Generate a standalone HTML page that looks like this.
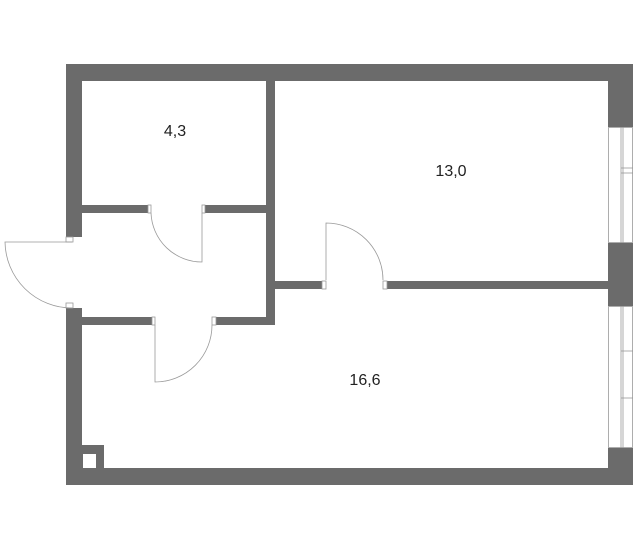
<!DOCTYPE html>
<html><head><style>body{margin:0;background:#fff}svg{display:block}</style></head><body>
<svg width="638" height="550" xmlns="http://www.w3.org/2000/svg">
<g fill="#6b6b6b">
<rect x="66" y="64" width="567" height="17"/>
<rect x="66" y="468" width="567" height="17"/>
<rect x="66" y="64" width="16" height="173"/>
<rect x="66" y="308" width="16" height="177"/>
<rect x="608" y="64" width="25" height="63"/>
<rect x="608" y="243" width="25" height="63"/>
<rect x="608" y="448" width="25" height="37"/>
<rect x="266" y="81" width="9" height="244"/>
<rect x="275" y="281" width="47" height="8"/>
<rect x="387" y="281" width="221" height="8"/>
<rect x="82" y="205" width="66" height="8"/>
<rect x="205" y="205" width="61" height="8"/>
<rect x="82" y="317" width="70" height="8"/>
<rect x="216" y="317" width="50" height="8"/>
<rect x="82" y="445" width="22" height="24"/>
</g>
<rect x="83" y="454" width="13" height="14" fill="#fff"/>
<g fill="none" stroke="#999" stroke-width="0.8">
<rect x="608.5" y="127.5" width="24" height="115"/>
<line x1="621" y1="127" x2="621" y2="243"/><line x1="623" y1="127" x2="623" y2="243"/>
<line x1="621" y1="168" x2="633" y2="168"/><line x1="621" y1="173" x2="633" y2="173"/>
<rect x="608.5" y="306.5" width="24" height="141"/>
<line x1="621" y1="306" x2="621" y2="448"/><line x1="623" y1="306" x2="623" y2="448"/>
<line x1="621" y1="351" x2="633" y2="351"/><line x1="621" y1="398" x2="633" y2="398"/>
<path d="M326 280 V223 A57 57 0 0 1 383 280"/>
<rect x="322" y="281" width="4" height="8"/><rect x="383" y="281" width="4" height="8"/>
<path d="M202 213 V262 A51 51 0 0 1 151 213"/>
<rect x="148" y="205" width="3" height="8"/><rect x="202" y="205" width="3" height="8"/>
<path d="M155 325 V382 A57 57 0 0 0 212 325"/>
<rect x="152" y="317" width="3" height="8"/><rect x="212" y="317" width="4" height="8"/>
<path d="M72 242 H5 A67 67 0 0 0 72 308"/>
<rect x="66" y="237" width="7" height="5"/><rect x="66" y="303" width="7" height="5"/>
</g>
<g font-family="Liberation Sans, sans-serif" font-size="16" fill="#222" text-anchor="middle">
<text x="175" y="136">4,3</text>
<text x="451" y="176">13,0</text>
<text x="365" y="385">16,6</text>
</g>
</svg>
</body></html>
